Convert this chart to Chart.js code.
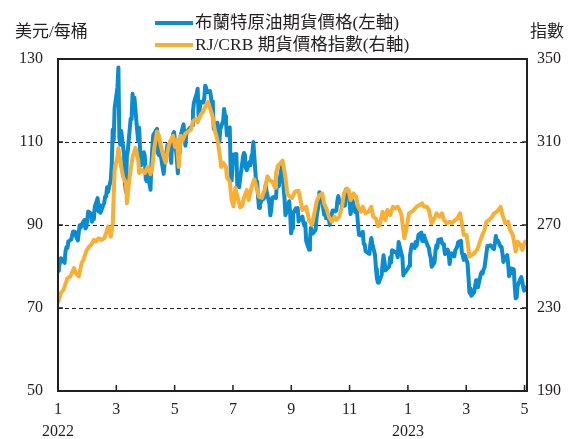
<!DOCTYPE html>
<html>
<head>
<meta charset="utf-8">
<script src="https://cdn.jsdelivr.net/npm/chart.js@4.4.0/dist/chart.umd.min.js"></script>
<style>
html, body { margin: 0; padding: 0; background: #fff; }
#wrap { position: relative; width: 568px; height: 439px; }
#chart { position: absolute; left: 0; top: 0; }
.txt { position: absolute; font-family: "Liberation Serif", "Noto Sans CJK TC", serif; color: #231f20; white-space: nowrap; line-height: 1; }
.key { position: absolute; height: 4px; width: 38px; }
</style>
</head>
<body>
<div id="wrap">
  <canvas id="chart" width="568" height="439"></canvas>
  <div class="txt" style="left:15px;top:23px;font-size:17px;">美元/每桶</div>
  <div class="txt" style="left:530px;top:23px;font-size:17px;">指數</div>
  <div class="key" style="left:155px;top:21px;background:#0b8bd0;"></div>
  <div class="txt" style="left:195px;top:14px;font-size:17.5px;">布蘭特原油期貨價格(左軸)</div>
  <div class="key" style="left:155px;top:43px;background:#f9ae34;"></div>
  <div class="txt" style="left:195px;top:36px;font-size:17.5px;">RJ/CRB 期貨價格指數(右軸)</div>
</div>
<script>
// Brent crude futures, USD per barrel (left axis)
var brentDates = [
  "2022-01-03","2022-01-04","2022-01-05","2022-01-06","2022-01-07","2022-01-10","2022-01-11","2022-01-12","2022-01-13","2022-01-14",
  "2022-01-17","2022-01-18","2022-01-19","2022-01-20","2022-01-21","2022-01-24","2022-01-25","2022-01-26","2022-01-27","2022-01-28","2022-01-31",
  "2022-02-01","2022-02-02","2022-02-03","2022-02-04","2022-02-07","2022-02-08","2022-02-09","2022-02-10","2022-02-11","2022-02-14",
  "2022-02-15","2022-02-16","2022-02-17","2022-02-18","2022-02-21","2022-02-22","2022-02-23","2022-02-24","2022-02-25","2022-02-28",
  "2022-03-01","2022-03-02","2022-03-03","2022-03-04","2022-03-07","2022-03-08","2022-03-09","2022-03-10","2022-03-11","2022-03-14",
  "2022-03-15","2022-03-16","2022-03-17","2022-03-18","2022-03-21","2022-03-22","2022-03-23","2022-03-24","2022-03-25","2022-03-28",
  "2022-03-29","2022-03-30","2022-03-31","2022-04-01","2022-04-04","2022-04-05","2022-04-06","2022-04-07","2022-04-08","2022-04-11",
  "2022-04-12","2022-04-13","2022-04-14","2022-04-18","2022-04-19","2022-04-20","2022-04-21","2022-04-22","2022-04-25","2022-04-26",
  "2022-04-27","2022-04-28","2022-04-29","2022-05-02","2022-05-03","2022-05-04","2022-05-05","2022-05-06","2022-05-09","2022-05-10",
  "2022-05-11","2022-05-12","2022-05-13","2022-05-16","2022-05-17","2022-05-18","2022-05-19","2022-05-20","2022-05-23","2022-05-24",
  "2022-05-25","2022-05-26","2022-05-27","2022-05-30","2022-05-31","2022-06-01","2022-06-02","2022-06-03","2022-06-06","2022-06-07",
  "2022-06-08","2022-06-09","2022-06-10","2022-06-13","2022-06-14","2022-06-15","2022-06-16","2022-06-17","2022-06-20","2022-06-21",
  "2022-06-22","2022-06-23","2022-06-24","2022-06-27","2022-06-28","2022-06-29","2022-06-30","2022-07-01","2022-07-04","2022-07-05",
  "2022-07-06","2022-07-07","2022-07-08","2022-07-11","2022-07-12","2022-07-13","2022-07-14","2022-07-15","2022-07-18","2022-07-19",
  "2022-07-20","2022-07-21","2022-07-22","2022-07-25","2022-07-26","2022-07-27","2022-07-28","2022-07-29","2022-08-01","2022-08-02",
  "2022-08-03","2022-08-04","2022-08-05","2022-08-08","2022-08-09","2022-08-10","2022-08-11","2022-08-12","2022-08-15","2022-08-16",
  "2022-08-17","2022-08-18","2022-08-19","2022-08-22","2022-08-23","2022-08-24","2022-08-25","2022-08-26","2022-08-29","2022-08-30",
  "2022-08-31","2022-09-01","2022-09-02","2022-09-05","2022-09-06","2022-09-07","2022-09-08","2022-09-09","2022-09-12","2022-09-13",
  "2022-09-14","2022-09-15","2022-09-16","2022-09-19","2022-09-20","2022-09-21","2022-09-22","2022-09-23","2022-09-26","2022-09-27",
  "2022-09-28","2022-09-29","2022-09-30","2022-10-03","2022-10-04","2022-10-05","2022-10-06","2022-10-07","2022-10-10","2022-10-11",
  "2022-10-12","2022-10-13","2022-10-14","2022-10-17","2022-10-18","2022-10-19","2022-10-20","2022-10-21","2022-10-24","2022-10-25",
  "2022-10-26","2022-10-27","2022-10-28","2022-10-31","2022-11-01","2022-11-02","2022-11-03","2022-11-04","2022-11-07","2022-11-08",
  "2022-11-09","2022-11-10","2022-11-11","2022-11-14","2022-11-15","2022-11-16","2022-11-17","2022-11-18","2022-11-21","2022-11-22",
  "2022-11-23","2022-11-24","2022-11-25","2022-11-28","2022-11-29","2022-11-30","2022-12-01","2022-12-02","2022-12-05","2022-12-06",
  "2022-12-07","2022-12-08","2022-12-09","2022-12-12","2022-12-13","2022-12-14","2022-12-15","2022-12-16","2022-12-19","2022-12-20",
  "2022-12-21","2022-12-22","2022-12-23","2022-12-28","2022-12-29","2022-12-30","2023-01-03","2023-01-04","2023-01-05","2023-01-06",
  "2023-01-09","2023-01-10","2023-01-11","2023-01-12","2023-01-13","2023-01-16","2023-01-17","2023-01-18","2023-01-19","2023-01-20",
  "2023-01-23","2023-01-24","2023-01-25","2023-01-26","2023-01-27","2023-01-30","2023-01-31","2023-02-01","2023-02-02","2023-02-03",
  "2023-02-06","2023-02-07","2023-02-08","2023-02-09","2023-02-10","2023-02-13","2023-02-14","2023-02-15","2023-02-16","2023-02-17",
  "2023-02-20","2023-02-21","2023-02-22","2023-02-23","2023-02-24","2023-02-27","2023-02-28","2023-03-01","2023-03-02","2023-03-03",
  "2023-03-06","2023-03-07","2023-03-08","2023-03-09","2023-03-10","2023-03-13","2023-03-14","2023-03-15","2023-03-16","2023-03-17",
  "2023-03-20","2023-03-21","2023-03-22","2023-03-23","2023-03-24","2023-03-27","2023-03-28","2023-03-29","2023-03-30","2023-03-31",
  "2023-04-03","2023-04-04","2023-04-05","2023-04-06","2023-04-10","2023-04-11","2023-04-12","2023-04-13","2023-04-14","2023-04-17",
  "2023-04-18","2023-04-19","2023-04-20","2023-04-21","2023-04-24","2023-04-25","2023-04-26","2023-04-27","2023-04-28","2023-05-01",
  "2023-05-02","2023-05-03","2023-05-04","2023-05-05","2023-05-08","2023-05-09","2023-05-10","2023-05-11","2023-05-12","2023-05-15"
];
var brentPrice = [
  78.98,80.00,80.80,81.99,81.75,80.87,83.72,84.67,84.47,86.06,
  86.48,87.51,88.44,88.38,87.89,86.27,88.20,89.96,89.34,90.03,91.21,
  89.16,89.47,91.11,93.27,92.69,90.78,91.55,91.41,94.44,96.48,
  93.28,94.81,92.97,93.54,95.39,96.84,96.84,99.08,97.93,100.99,
  104.97,112.93,110.46,118.11,123.21,127.98,111.14,109.33,112.67,106.90,
  99.91,98.02,106.64,107.93,115.62,115.48,121.60,119.03,120.65,112.48,
  110.23,113.45,107.91,104.39,107.53,106.64,101.07,100.58,102.78,98.48,
  104.64,108.78,111.70,113.16,107.25,106.80,108.33,106.65,102.32,104.99,
  105.32,107.59,109.34,107.58,104.97,110.14,111.90,112.39,105.94,102.46,
  107.51,107.45,111.55,114.24,111.93,109.11,112.04,112.55,113.42,113.56,
  114.03,117.40,119.43,121.67,122.84,116.29,117.61,119.72,119.51,120.57,
  123.58,123.07,122.01,122.27,121.17,118.51,119.81,113.12,114.13,114.65,
  111.74,110.05,113.12,115.09,117.98,116.26,114.81,111.63,113.50,102.77,
  100.69,104.65,107.02,107.10,99.49,99.57,99.10,101.16,106.27,107.35,
  106.92,103.86,103.20,105.15,104.40,106.62,107.14,110.01,100.03,100.54,
  96.78,94.12,94.92,96.65,96.31,97.40,99.60,98.15,95.10,92.34,
  93.65,96.59,96.72,96.48,100.22,101.22,99.34,100.99,105.09,99.31,
  96.49,92.36,93.02,95.74,92.83,88.00,89.15,92.84,94.00,93.17,
  94.10,90.84,91.35,92.00,90.62,89.83,90.46,86.15,84.06,86.27,
  89.32,88.49,87.96,88.86,91.80,93.37,94.42,97.92,96.19,94.29,
  92.45,94.57,91.63,91.62,90.03,92.41,92.38,93.50,93.26,93.52,
  95.69,96.96,95.77,94.83,94.65,96.16,94.67,98.57,97.92,95.36,
  92.65,93.67,95.99,93.14,93.86,92.86,89.78,87.62,87.45,88.36,
  85.41,85.34,83.63,83.19,83.03,85.43,86.88,85.57,82.68,79.35,
  77.17,76.15,76.10,77.99,80.68,82.70,81.21,79.04,79.80,79.99,
  82.20,80.98,83.92,83.26,82.26,85.91,82.10,77.84,78.69,78.57,
  79.65,80.10,82.67,84.03,85.28,84.46,85.92,84.98,86.16,87.63,
  88.19,86.13,86.12,87.47,86.66,84.90,84.49,82.84,82.17,79.94,
  80.99,83.69,85.09,84.50,86.39,86.61,85.58,85.38,85.14,83.00,
  84.07,83.05,80.60,82.21,83.16,82.45,83.89,84.31,84.75,85.83,
  86.18,83.29,82.66,81.59,82.78,80.77,77.45,73.69,74.70,72.97,
  73.79,75.32,76.69,75.91,74.99,78.12,78.65,78.28,79.27,79.77,
  84.93,84.94,84.99,85.12,84.18,85.61,87.33,86.09,86.31,84.76,
  84.77,83.12,81.10,81.66,82.73,80.77,77.69,78.37,79.54,79.31,
  75.32,72.33,72.50,75.30,77.01,77.44,76.41,74.98,74.17,75.23
];

// RJ/CRB futures price index (right axis)
var crbDates = [
  "2022-01-03","2022-01-06","2022-01-09","2022-01-13","2022-01-16","2022-01-20","2022-01-22","2022-01-25","2022-01-28","2022-01-30",
  "2022-02-02","2022-02-05","2022-02-07","2022-02-10","2022-02-12","2022-02-15","2022-02-18","2022-02-21","2022-02-23","2022-02-25",
  "2022-02-28","2022-03-02","2022-03-04","2022-03-07","2022-03-08","2022-03-11","2022-03-13","2022-03-16","2022-03-17","2022-03-20",
  "2022-03-23","2022-03-26","2022-03-29","2022-03-30","2022-04-02","2022-04-05","2022-04-08","2022-04-11","2022-04-13","2022-04-15",
  "2022-04-18","2022-04-20","2022-04-22","2022-04-24","2022-04-27","2022-04-30","2022-05-02","2022-05-05","2022-05-07","2022-05-09",
  "2022-05-11","2022-05-13","2022-05-15","2022-05-18","2022-05-21","2022-05-24","2022-05-26","2022-05-29","2022-05-31","2022-06-03",
  "2022-06-06","2022-06-08","2022-06-11","2022-06-13","2022-06-16","2022-06-18","2022-06-21","2022-06-23","2022-06-25","2022-06-27",
  "2022-06-30","2022-07-01","2022-07-04","2022-07-06","2022-07-08","2022-07-10","2022-07-12","2022-07-15","2022-07-17","2022-07-19",
  "2022-07-22","2022-07-24","2022-07-27","2022-07-30","2022-08-02","2022-08-04","2022-08-07","2022-08-10","2022-08-13","2022-08-15",
  "2022-08-18","2022-08-21","2022-08-22","2022-08-24","2022-08-27","2022-08-29","2022-09-01","2022-09-03","2022-09-06","2022-09-08",
  "2022-09-11","2022-09-15","2022-09-17","2022-09-19","2022-09-23","2022-09-26","2022-09-29","2022-10-01","2022-10-04","2022-10-07",
  "2022-10-10","2022-10-12","2022-10-15","2022-10-17","2022-10-20","2022-10-23","2022-10-25","2022-10-28","2022-10-31","2022-11-02",
  "2022-11-05","2022-11-07","2022-11-09","2022-11-12","2022-11-15","2022-11-17","2022-11-20","2022-11-22","2022-11-25","2022-11-28",
  "2022-12-01","2022-12-03","2022-12-06","2022-12-08","2022-12-10","2022-12-13","2022-12-16","2022-12-18","2022-12-21","2022-12-24",
  "2022-12-26","2022-12-29","2022-12-31","2023-01-02","2023-01-05","2023-01-07","2023-01-10","2023-01-13","2023-01-15","2023-01-18",
  "2023-01-21","2023-01-24","2023-01-26","2023-01-29","2023-01-31","2023-02-03","2023-02-06","2023-02-08","2023-02-11","2023-02-14",
  "2023-02-16","2023-02-19","2023-02-22","2023-02-24","2023-02-28","2023-03-02","2023-03-05","2023-03-07","2023-03-09","2023-03-12",
  "2023-03-15","2023-03-18","2023-03-20","2023-03-23","2023-03-25","2023-03-28","2023-03-31","2023-04-02","2023-04-05","2023-04-08",
  "2023-04-10","2023-04-13","2023-04-16","2023-04-17","2023-04-19","2023-04-22","2023-04-25","2023-04-27","2023-04-30","2023-05-03",
  "2023-05-05","2023-05-08","2023-05-10","2023-05-13","2023-05-15"
];
var crbIndex = [
  232.4,237.2,238.8,244.4,245.2,249.2,246.8,245.2,251.6,253.2,
  257.5,259.6,260.4,262.8,262.0,263.6,262.8,263.6,266.0,269.2,
  264.4,271.0,296.4,303.0,307.0,298.0,293.2,290.0,280.5,293.5,
  302.5,307.2,301.2,295.0,296.4,295.0,298.0,294.5,298.0,307.0,
  315.0,313.0,308.0,304.4,300.0,307.6,310.5,313.0,307.6,311.0,
  298.0,313.0,310.8,314.0,315.0,316.0,320.0,321.0,319.5,323.0,
  324.8,327.0,329.3,326.5,322.0,316.0,311.0,305.0,298.0,300.0,
  298.0,293.0,291.0,282.0,279.0,288.0,284.0,278.5,279.0,283.0,
  286.8,282.0,288.0,292.0,287.0,283.6,283.0,287.0,293.5,291.5,
  291.0,288.0,294.8,298.5,300.0,301.0,293.0,285.0,283.6,283.0,
  286.0,286.5,282.0,277.2,278.8,272.4,270.0,274.0,281.2,284.4,
  285.2,280.4,277.2,274.0,271.6,274.0,272.4,274.0,278.8,285.2,
  287.6,286.8,282.0,285.2,283.6,278.8,276.4,278.8,275.6,276.4,
  278.8,274.0,273.0,269.5,270.0,276.4,272.4,277.2,274.8,278.8,
  278.0,278.8,277.2,274.8,263.6,267.6,275.6,276.4,277.2,278.8,
  279.6,280.4,278.8,278.8,277.2,270.8,273.2,275.6,274.0,275.6,
  272.4,270.8,271.6,270.8,272.4,273.0,275.6,270.8,265.2,265.2,
  254.8,255.6,256.4,258.0,260.4,264.4,267.6,271.6,272.4,274.0,
  275.6,276.4,278.0,278.8,274.8,270.8,271.6,267.6,265.2,257.2,
  262.0,260.4,258.0,262.0,261.2
];

// axis values
var leftTicks = { min: 50, max: 130, step: 20 };
var rightTicks = { min: 190, max: 350, step: 40 };
var monthLabels = ["1", "3", "5", "7", "9", "11", "1", "3", "5"];
var yearLabels = { 0: "2022", 6: "2023" };

var BLUE = "#0b8bd0";
var ORANGE = "#f9ae34";
var INK = "#231f20";

function dayNum(s) {
  var p = s.split("-");
  return (Date.UTC(+p[0], +p[1] - 1, +p[2]) - Date.UTC(2022, 0, 1)) / 86400000;
}

function toPoints(dates, values) {
  var pts = [];
  for (var i = 0; i < dates.length; i++) {
    pts.push({ x: dayNum(dates[i]), y: values[i] });
  }
  return pts;
}

var xMin = dayNum(brentDates[0]);
var xMax = dayNum(brentDates[brentDates.length - 1]);
var tickStep = 61.8; // days between labelled ticks

var serif = "'Liberation Serif', 'Times New Roman', serif";

// dashed grid, frame and inward tick marks
var framePlugin = {
  id: "frame",
  beforeDatasetsDraw: function(chart) {
    var ctx = chart.ctx;
    var a = chart.chartArea;
    var y = chart.scales.y;
    ctx.save();
    ctx.strokeStyle = INK;
    ctx.lineWidth = 1;
    ctx.setLineDash([4, 3]);
    y.ticks.forEach(function(t) {
      if (t.value <= leftTicks.min || t.value >= leftTicks.max) return;
      var py = Math.round(y.getPixelForValue(t.value)) + 0.5;
      ctx.beginPath();
      ctx.moveTo(a.left, py);
      ctx.lineTo(a.right, py);
      ctx.stroke();
    });
    ctx.restore();
  },
  afterDatasetsDraw: function(chart) {
    var ctx = chart.ctx;
    var a = chart.chartArea;
    var x = chart.scales.x;
    var y = chart.scales.y;
    ctx.save();
    ctx.strokeStyle = INK;
    ctx.lineWidth = 2;
    ctx.setLineDash([]);
    ctx.strokeRect(a.left, a.top, a.right - a.left, a.bottom - a.top);
    ctx.lineWidth = 1.5;
    y.ticks.forEach(function(t) {
      var py = y.getPixelForValue(t.value);
      ctx.beginPath();
      ctx.moveTo(a.left, py);
      ctx.lineTo(a.left + 5, py);
      ctx.moveTo(a.right, py);
      ctx.lineTo(a.right - 5, py);
      ctx.stroke();
    });
    x.ticks.forEach(function(t) {
      var px = x.getPixelForValue(t.value);
      ctx.beginPath();
      ctx.moveTo(px, a.bottom);
      ctx.lineTo(px, a.bottom - 6);
      ctx.stroke();
    });
    ctx.restore();
  }
};

var ctx = document.getElementById("chart").getContext("2d");
var chart = new Chart(ctx, {
  type: "line",
  data: {
    datasets: [
      {
        label: "布蘭特原油期貨價格(左軸)",
        data: toPoints(brentDates, brentPrice),
        yAxisID: "y",
        borderColor: BLUE,
        borderWidth: 4,
        pointRadius: 0,
        tension: 0,
        borderJoinStyle: "round",
        order: 1
      },
      {
        label: "RJ/CRB 期貨價格指數(右軸)",
        data: toPoints(crbDates, crbIndex),
        yAxisID: "y1",
        borderColor: ORANGE,
        borderWidth: 4,
        pointRadius: 0,
        tension: 0,
        borderJoinStyle: "round",
        order: 0
      }
    ]
  },
  options: {
    responsive: false,
    animation: false,
    events: [],
    layout: { padding: { top: 59, left: 0, right: 0, bottom: 0 } },
    plugins: { legend: { display: false }, tooltip: { enabled: false } },
    scales: {
      x: {
        type: "linear",
        min: xMin,
        max: xMax,
        grid: { display: false, drawTicks: false },
        border: { display: false },
        afterBuildTicks: function(scale) {
          scale.ticks = monthLabels.map(function(l, i) {
            return { value: xMin + i * tickStep };
          });
        },
        afterFit: function(scale) { scale.height = 48; },
        ticks: {
          autoSkip: false,
          maxRotation: 0,
          padding: 8,
          color: INK,
          font: { family: serif, size: 16, lineHeight: 1.35 },
          callback: function(value, index) {
            if (yearLabels[index]) return [monthLabels[index], yearLabels[index]];
            return monthLabels[index];
          }
        }
      },
      y: {
        position: "left",
        min: leftTicks.min,
        max: leftTicks.max,
        grid: { display: false, drawTicks: false },
        border: { display: false },
        afterFit: function(scale) { scale.width = 58; },
        ticks: {
          stepSize: leftTicks.step,
          padding: 15,
          color: INK,
          font: { family: serif, size: 16 }
        }
      },
      y1: {
        position: "right",
        min: rightTicks.min,
        max: rightTicks.max,
        grid: { display: false, drawTicks: false },
        border: { display: false },
        afterFit: function(scale) { scale.width = 41; },
        ticks: {
          stepSize: rightTicks.step,
          padding: 10,
          color: INK,
          font: { family: serif, size: 16 }
        }
      }
    }
  },
  plugins: [framePlugin]
});
</script>
</body>
</html>
